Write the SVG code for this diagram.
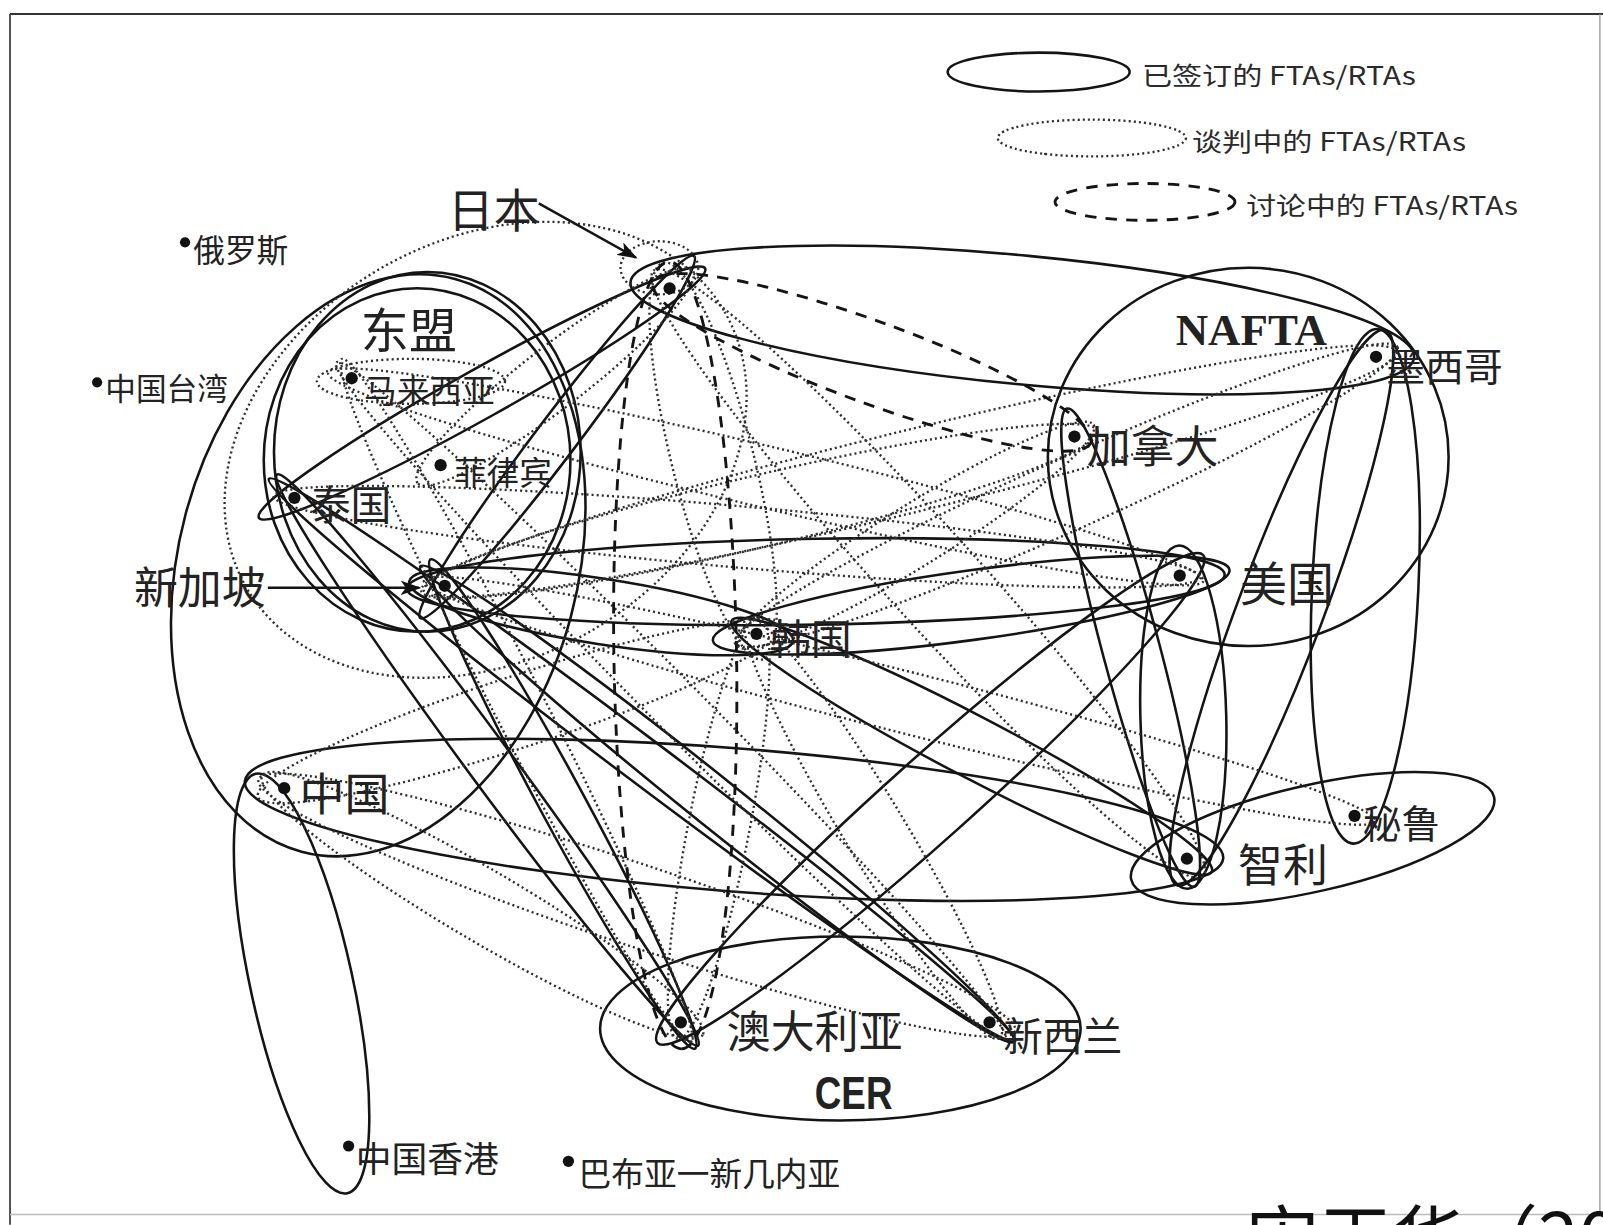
<svg xmlns="http://www.w3.org/2000/svg" width="1603" height="1225" viewBox="0 0 1603 1225">
<style>
.s{fill:none;stroke:#141414;stroke-width:2.5}
.d{fill:none;stroke:#2e2e2e;stroke-width:2.3;stroke-dasharray:2 3}
.q{fill:none;stroke:#141414;stroke-width:2.8;stroke-dasharray:11 9}
.p{fill:none;stroke:#141414;stroke-width:2.4}
.dot{fill:#111}
.t{font-family:"Noto Sans CJK SC","Noto Sans",sans-serif;fill:#222}
.lg{font-family:"Noto Sans CJK SC","Noto Sans",sans-serif;fill:#2a2a2a;font-size:25px}
</style>
<defs>
<marker id="ah" markerWidth="20" markerHeight="14" refX="18" refY="7" orient="auto" markerUnits="userSpaceOnUse">
<path d="M0,0 L20,7 L0,14 L5,7 z" fill="#111"/>
</marker>
</defs>
<rect x="0" y="0" width="1603" height="1225" fill="#fff"/>
<g transform="scale(1.0223)">
<g id="frame">
<line x1="9.8" y1="13.7" x2="1568" y2="13.7" stroke="#333" stroke-width="1.8"/>
<line x1="9.8" y1="13.7" x2="9.8" y2="1198" stroke="#444" stroke-width="1.8"/>
<line x1="1565" y1="13.7" x2="1565" y2="1188" stroke="#999" stroke-width="1.3"/>
<line x1="9.8" y1="1188" x2="1565" y2="1188" stroke="#bbb" stroke-width="1.3"/>
</g>
<g id="legend">
<ellipse class="s" cx="1016" cy="70.5" rx="89" ry="19" stroke-width="3"/>
<text class="lg" x="1117" y="83" textLength="268" lengthAdjust="spacingAndGlyphs">已签订的 FTAs/RTAs</text>
<ellipse class="d" cx="1068" cy="135" rx="92" ry="18"/>
<text class="lg" x="1166" y="148" textLength="268" lengthAdjust="spacingAndGlyphs">谈判中的 FTAs/RTAs</text>
<ellipse class="q" cx="1120" cy="197.5" rx="88" ry="18" stroke-dasharray="12 9"/>
<text class="lg" x="1219" y="210" textLength="266" lengthAdjust="spacingAndGlyphs">讨论中的 FTAs/RTAs</text>
</g>
<g id="connectors">
<!-- signed (solid) -->
<ellipse class="s" cx="408" cy="450" rx="150" ry="168"/>
<ellipse class="s" cx="418" cy="442" rx="150" ry="176"/>
<ellipse class="s" cx="370" cy="553" rx="195" ry="290" transform="rotate(15 370 553)"/>
<ellipse class="s" cx="471.5" cy="384.5" rx="250" ry="24" transform="rotate(-29.2 471.5 384.5)"/>
<ellipse class="s" cx="545" cy="427.5" rx="222" ry="20" transform="rotate(-52.9 545 427.5)"/>
<ellipse class="s" cx="1000" cy="313" rx="385" ry="63" transform="rotate(5.5 1000 313)"/>
<ellipse class="s" cx="798" cy="569" rx="400" ry="42" transform="rotate(-1 798 569)"/>
<ellipse class="s" cx="950" cy="592" rx="255" ry="34" transform="rotate(-7.8 950 592)"/>
<ellipse class="s" cx="588" cy="598" rx="190" ry="32" transform="rotate(8.8 588 598)"/>
<ellipse class="s" cx="718" cy="802" rx="480" ry="70" transform="rotate(4.5 718 802)"/>
<ellipse class="s" cx="295" cy="962" rx="210" ry="50" transform="rotate(77.7 295 962)"/>
<ellipse class="s" cx="1221" cy="447" rx="196" ry="185"/>
<ellipse class="s" cx="822" cy="1006" rx="235" ry="90"/>
<ellipse class="s" cx="1106" cy="633.5" rx="242" ry="28" transform="rotate(75.1 1106 633.5)"/>
<ellipse class="s" cx="1157.5" cy="701.5" rx="168" ry="42" transform="rotate(88.6 1157.5 701.5)"/>
<ellipse class="s" cx="1253.5" cy="594.5" rx="290" ry="42" transform="rotate(110.6 1253.5 594.5)"/>
<ellipse class="s" cx="1335.5" cy="573.5" rx="252" ry="52" transform="rotate(92.7 1335.5 573.5)"/>
<ellipse class="s" cx="950.5" cy="730" rx="265" ry="30" transform="rotate(27.6 950.5 730)"/>
<ellipse class="s" cx="1284" cy="820" rx="182" ry="52" transform="rotate(-12.8 1284 820)"/>
<ellipse class="s" cx="910" cy="781.5" rx="358" ry="40" transform="rotate(138.2 910 781.5)"/>
<ellipse class="s" cx="550.5" cy="786.5" rx="272" ry="22" transform="rotate(61.6 550.5 786.5)"/>
<ellipse class="s" cx="701.5" cy="786.5" rx="372" ry="24" transform="rotate(38.7 701.5 786.5)"/>
<ellipse class="s" cx="477" cy="743.5" rx="347" ry="22" transform="rotate(53.6 477 743.5)"/>
<ellipse class="s" cx="628" cy="743.5" rx="457" ry="22" transform="rotate(37 628 743.5)"/>
<!-- under negotiation (dotted) -->
<ellipse class="d" cx="475" cy="440" rx="270" ry="205" transform="rotate(-30 475 440)"/>
<ellipse class="d" cx="402" cy="373" rx="92" ry="22"/>
<ellipse class="d" cx="645" cy="262" rx="38" ry="26"/>
<ellipse class="d" cx="697.5" cy="451" rx="200" ry="40" transform="rotate(75.9 697.5 451)"/>
<ellipse class="d" cx="908" cy="561" rx="400" ry="45" transform="rotate(47.8 908 561)"/>
<ellipse class="d" cx="543" cy="368.5" rx="170" ry="30" transform="rotate(142.3 543 368.5)"/>
<ellipse class="d" cx="472" cy="885.5" rx="250" ry="35" transform="rotate(30.5 472 885.5)"/>
<ellipse class="d" cx="623" cy="885.5" rx="390" ry="40" transform="rotate(18.4 623 885.5)"/>
<ellipse class="d" cx="509" cy="695.5" rx="270" ry="35" transform="rotate(-18.1 509 695.5)"/>
<ellipse class="d" cx="895.5" cy="523.5" rx="205" ry="30" transform="rotate(-31.8 895.5 523.5)"/>
<ellipse class="d" cx="1043" cy="484.5" rx="355" ry="35" transform="rotate(-24.1 1043 484.5)"/>
<ellipse class="d" cx="743" cy="500" rx="340" ry="35" transform="rotate(-13.3 743 500)"/>
<ellipse class="d" cx="890.5" cy="461" rx="490" ry="40" transform="rotate(-13.8 890.5 461)"/>
<ellipse class="d" cx="721" cy="525" rx="455" ry="30" transform="rotate(5 721 525)"/>
<ellipse class="d" cx="703" cy="810" rx="210" ry="30" transform="rotate(101 703 810)"/>
<ellipse class="d" cx="854" cy="810" rx="240" ry="30" transform="rotate(59 854 810)"/>
<ellipse class="d" cx="749" cy="466.5" rx="440" ry="30" transform="rotate(13.4 749 466.5)"/>
<ellipse class="d" cx="505" cy="685" rx="375" ry="25" transform="rotate(62.9 505 685)"/>
<ellipse class="d" cx="656" cy="685" rx="465" ry="25" transform="rotate(45.3 656 685)"/>
<ellipse class="d" cx="880" cy="685.5" rx="480" ry="30" transform="rotate(14.2 880 685.5)"/>
<!-- under discussion (dashed) -->
<ellipse class="q" cx="853" cy="354.5" rx="228" ry="40" transform="rotate(20.1 853 354.5)"/>
<ellipse class="q" cx="660.5" cy="641" rx="385" ry="60" transform="rotate(89.1 660.5 641)"/>
<!-- label pointers -->
<line class="p" x1="527" y1="199" x2="622" y2="252" marker-end="url(#ah)"/>
<line class="p" x1="262" y1="575" x2="410" y2="575" marker-end="url(#ah)"/>
</g>
<g id="node-jp"><circle class="dot" cx="655" cy="282" r="6"/><text class="t" x="438" y="222" font-size="45">日本</text></g>
<g id="node-asean"><text class="t" x="353" y="340" font-size="47">东盟</text></g>
<g id="node-ru"><circle class="dot" cx="181" cy="237" r="5"/><text class="t" x="189" y="256" font-size="31">俄罗斯</text></g>
<g id="node-tw"><circle class="dot" cx="95" cy="374" r="5"/><text class="t" x="103" y="391" font-size="30">中国台湾</text></g>
<g id="node-my"><circle class="dot" cx="344" cy="370" r="6"/><text class="t" x="356" y="394" font-size="32">马来西亚</text></g>
<g id="node-ph"><circle class="dot" cx="431" cy="455" r="6"/><text class="t" x="444" y="474" font-size="32">菲律宾</text></g>
<g id="node-th"><circle class="dot" cx="288" cy="487" r="6"/><text class="t" x="303" y="509" font-size="40">泰国</text></g>
<g id="node-sg"><circle class="dot" cx="435" cy="573" r="6"/><text class="t" x="131" y="591" font-size="43">新加坡</text></g>
<g id="node-kr"><circle class="dot" cx="740" cy="620" r="6"/><text class="t" x="753" y="640" font-size="40">韩国</text></g>
<g id="node-cn"><circle class="dot" cx="278" cy="771" r="6"/><text class="t" x="293" y="793" font-size="44">中国</text></g>
<g id="node-hk"><circle class="dot" cx="341" cy="1121" r="5.5"/><text class="t" x="348" y="1146" font-size="35">中国香港</text></g>
<g id="node-png"><circle class="dot" cx="556" cy="1136" r="5.5"/><text class="t" x="566" y="1160" font-size="32">巴布亚一新几内亚</text></g>
<g id="node-au"><circle class="dot" cx="666" cy="1000" r="6"/><text class="t" x="711" y="1025" font-size="43">澳大利亚</text></g>
<g id="node-nz"><circle class="dot" cx="968" cy="1000" r="6"/><text class="t" x="981" y="1028" font-size="39">新西兰</text></g>
<g id="node-cer"><text x="797" y="1085" font-family="Liberation Sans,sans-serif" font-weight="bold" font-size="46" fill="#222" textLength="76" lengthAdjust="spacingAndGlyphs">CER</text></g>
<g id="node-nafta"><text x="1150" y="337" font-family="Liberation Serif,serif" font-weight="bold" font-size="44" fill="#222" textLength="148" lengthAdjust="spacingAndGlyphs">NAFTA</text></g>
<g id="node-ca"><circle class="dot" cx="1051" cy="427" r="6"/><text class="t" x="1063" y="453" font-size="43">加拿大</text></g>
<g id="node-mx"><circle class="dot" cx="1346" cy="349" r="6"/><text class="t" x="1356" y="373" font-size="38">墨西哥</text></g>
<g id="node-us"><circle class="dot" cx="1154" cy="563" r="6"/><text class="t" x="1213" y="588" font-size="46">美国</text></g>
<g id="node-pe"><circle class="dot" cx="1325" cy="798" r="6"/><text class="t" x="1333" y="820" font-size="38">秘鲁</text></g>
<g id="node-cl"><circle class="dot" cx="1161" cy="840" r="6"/><text class="t" x="1211" y="863" font-size="44">智利</text></g>
</g>
<text x="1246" y="1266" font-family="Noto Sans CJK SC,sans-serif" font-size="73" fill="#111">宋玉华（20</text>
</svg>
